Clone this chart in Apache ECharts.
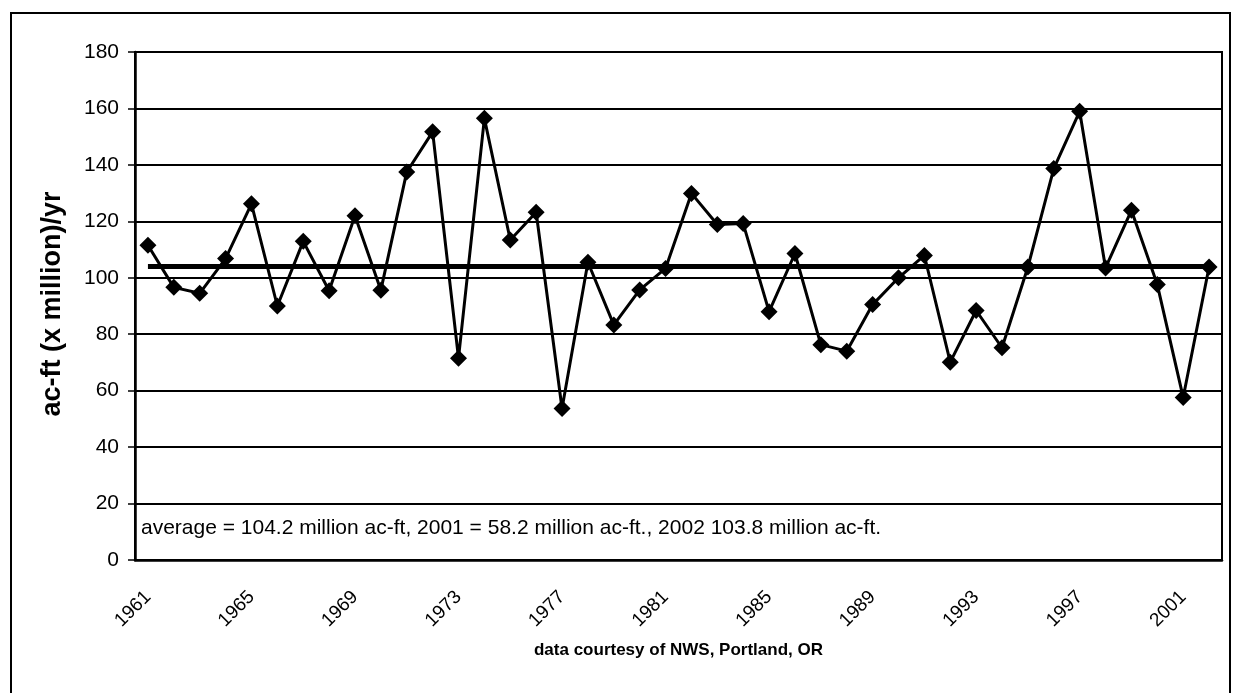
<!DOCTYPE html>
<html>
<head>
<meta charset="utf-8">
<script src="https://cdn.jsdelivr.net/npm/echarts@6/dist/echarts.min.js"></script>
<style>
    html, body { margin: 0; padding: 0; background: #fff; }
    #main { width: 1233px; height: 693px; }
</style>
</head>
<body>
<div id="main"></div>
<script>
    // 年份 1961 - 2002
    var years = ['1961','1962','1963','1964','1965','1966','1967','1968','1969','1970',
        '1971','1972','1973','1974','1975','1976','1977','1978','1979','1980',
        '1981','1982','1983','1984','1985','1986','1987','1988','1989','1990',
        '1991','1992','1993','1994','1995','1996','1997','1998','1999','2000',
        '2001','2002'];
    // 年径流量 ac-ft (x million)/yr
    var flow = [111.5, 96.6, 94.5, 106.8, 126.2, 90, 112.9, 95.4, 122, 95.6,
        137.5, 151.7, 71.5, 156.5, 113.4, 123.2, 53.7, 105.5, 83.3, 95.7,
        103.3, 129.9, 118.9, 119.2, 88, 108.6, 76.3, 74, 90.5, 100,
        107.9, 70.1, 88.4, 75.2, 103.8, 138.7, 159, 103.5, 123.9, 97.6,
        57.6, 103.8];
    var avgValue = 104.2;
    var note = 'average = 104.2 million ac-ft, 2001 = 58.2 million ac-ft., 2002 103.8 million ac-ft.';
    var font = '"Liberation Sans", Arial, sans-serif';

    var option = {
        animation: false,
        backgroundColor: '#fff',
        textStyle: { fontFamily: font, color: '#000' },
        grid: {
            left: 135, right: 11, top: 52, bottom: 133,
            show: true, borderColor: '#000', borderWidth: 2
        },
        xAxis: {
            type: 'category',
            data: years,
            boundaryGap: true,
            name: 'data courtesy of NWS, Portland, OR',
            nameLocation: 'middle',
            nameGap: 82,
            nameTextStyle: { fontFamily: font, fontSize: 17, fontWeight: 'bold', color: '#000' },
            axisLine: { lineStyle: { color: '#000', width: 2.5 } },
            axisTick: { interval: 0, length: 7, lineStyle: { color: '#000', width: 1.5 } },
            axisLabel: { interval: 3, rotate: 45, fontFamily: font, fontSize: 19, color: '#000', margin: 34 },
            splitLine: { show: false }
        },
        yAxis: {
            type: 'value',
            min: 0, max: 180, interval: 20,
            axisLine: { show: true, lineStyle: { color: '#000', width: 2.5 } },
            axisTick: { show: true, length: 7, lineStyle: { color: '#000', width: 1.5 } },
            axisLabel: { fontFamily: font, fontSize: 21, color: '#000', margin: 16 },
            splitLine: { lineStyle: { color: '#000', width: 1.8 } }
        },
        series: [{
            type: 'line',
            data: flow,
            symbol: 'diamond',
            symbolSize: 17,
            itemStyle: { color: '#000' },
            lineStyle: { color: '#000', width: 3 },
            markLine: {
                silent: true,
                symbol: 'none',
                label: { show: false },
                lineStyle: { color: '#000', width: 5, type: 'solid' },
                data: [[
                    { coord: [years[0], avgValue] },
                    { coord: [years[years.length - 1], avgValue] }
                ]]
            }
        }],
        graphic: [
            {
                type: 'rect',
                shape: { x: 11, y: 13, width: 1219, height: 700 },
                style: { fill: 'none', stroke: '#000', lineWidth: 2 }
            },
            {
                type: 'text',
                x: 53, y: 304,
                rotation: Math.PI / 2,
                style: {
                    text: 'ac-ft (x million)/yr',
                    font: 'bold 27px ' + font,
                    fill: '#000',
                    align: 'center',
                    verticalAlign: 'middle'
                }
            },
            {
                type: 'text',
                x: 141, y: 528,
                style: {
                    text: note,
                    font: '21px ' + font,
                    fill: '#000',
                    align: 'left',
                    verticalAlign: 'middle'
                }
            }
        ]
    };

    var myChart = echarts.init(document.getElementById('main'));
    myChart.setOption(option);
</script>
</body>
</html>
